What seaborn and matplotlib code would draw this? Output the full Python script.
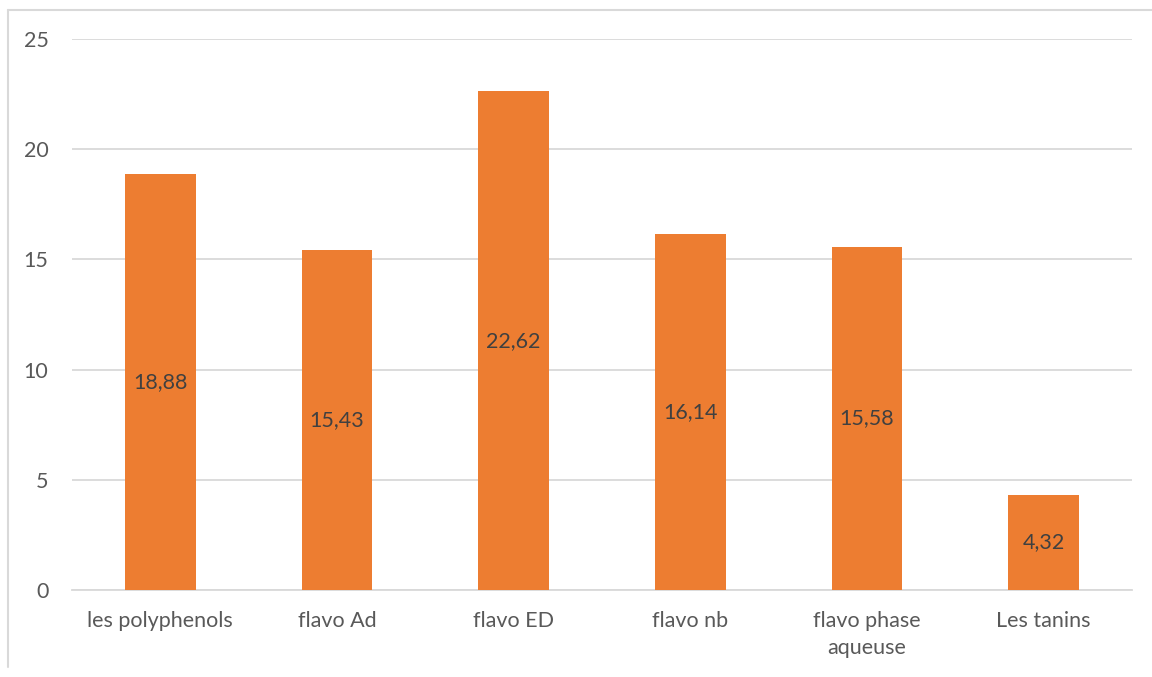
import matplotlib
matplotlib.use("Agg")
import matplotlib.pyplot as plt
import seaborn as sns
import pandas as pd
from matplotlib.lines import Line2D

categories = ["les polyphenols", "flavo Ad", "flavo ED", "flavo nb", "flavo phase\naqueuse", "Les tanins"]
values = [18.88, 15.43, 22.62, 16.14, 15.58, 4.32]
yticks = [0, 5, 10, 15, 20, 25]

sns.set_theme(style="white")
plt.rcParams['font.family'] = ['Lato', 'DejaVu Sans']

df = pd.DataFrame({"cat": categories, "val": values})

fig = plt.figure(figsize=(11.52, 6.77), dpi=100)
ax = fig.add_axes([72/1152, 1-590/677, (1132-72)/1152, (590-39)/677])

sns.barplot(data=df, x="cat", y="val", color="#ED7D31", width=0.4, ax=ax,
            saturation=1, zorder=3)
for p in ax.patches:
    p.set_edgecolor("none")

ax.set_xlim(-0.5, len(categories) - 0.5)
ax.set_ylim(0, 25)
ax.set_yticks(yticks)
ax.set_yticklabels([str(t) for t in yticks])
ax.yaxis.grid(True, color="#D9D9D9", linewidth=1.3, zorder=0)
ax.set_axisbelow(True)
for s in ["top", "right", "left"]:
    ax.spines[s].set_visible(False)
ax.spines["bottom"].set_color("#D9D9D9")
ax.spines["bottom"].set_linewidth(1.3)
ax.set_xlabel("")
ax.set_ylabel("")
ax.tick_params(axis="y", length=0, pad=17, labelsize=15.5, labelcolor="#595959")
ax.tick_params(axis="x", length=0, pad=15, labelsize=15.5, labelcolor="#595959")
for lbl in ax.get_xticklabels():
    lbl.set_linespacing(1.45)

for i, v in enumerate(values):
    ax.text(i, v / 2, f"{v:.2f}".replace(".", ","), ha="center", va="center",
            fontsize=15.5, color="#404040", zorder=4)

# chart border (top and left visible)
fig.add_artist(Line2D([8/1152, 1.0], [1-10/677, 1-10/677], color="#D9D9D9", linewidth=1.5))
fig.add_artist(Line2D([8/1152, 8/1152], [1-10/677, 1-667/677], color="#D9D9D9", linewidth=1.5))

fig.savefig("out.png", dpi=100, facecolor="white")
